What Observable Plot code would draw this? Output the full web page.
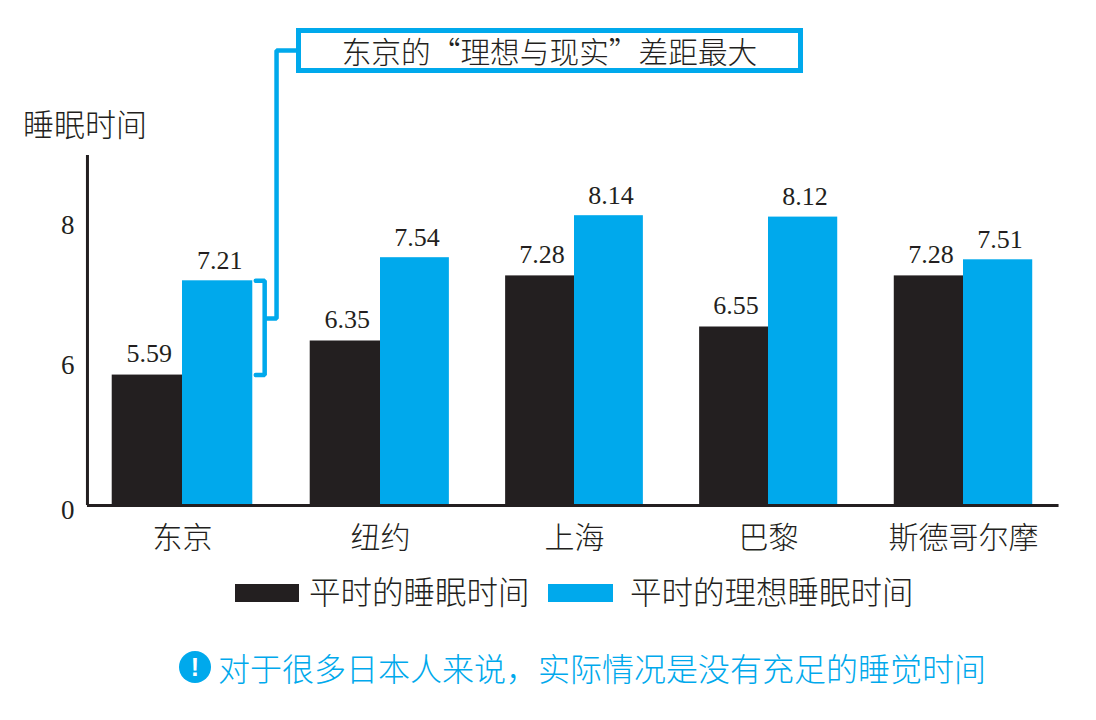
<!DOCTYPE html>
<html lang="zh">
<head>
<meta charset="utf-8">
<script src="https://cdn.jsdelivr.net/npm/d3@7"></script>
<script src="https://cdn.jsdelivr.net/npm/@observablehq/plot@0.6"></script>
<style>
  html, body { margin: 0; padding: 0; background: #fff; }
  #page { position: relative; width: 1096px; height: 720px; overflow: hidden;
          font-family: "Noto Sans CJK SC", sans-serif; font-weight: 300; color: #231f20; }
  #page svg { position: absolute; left: 0; top: 0; }
  .abs { position: absolute; white-space: nowrap; line-height: 1; }
  .swatch { position: absolute; }
</style>
</head>
<body>
<div id="page">
  <div id="chart"></div>
  <div class="abs" id="ylabel" style="left:23px; top:107px; font-size:31px;"></div>
  <div class="abs" id="callout" style="left:296px; top:28px; width:497px; height:35px; border:5px solid #00a9ec; background:#fff; font-size:29.7px; line-height:35px; text-align:center;"></div>
  <div class="swatch" style="left:235px; top:584px; width:64px; height:18px; background:#231f20;"></div>
  <div class="abs" id="leg1" style="left:309px; top:575px; font-size:31.5px;"></div>
  <div class="swatch" style="left:548px; top:584px; width:65px; height:18px; background:#00a9ec;"></div>
  <div class="abs" id="leg2" style="left:630px; top:575px; font-size:31.5px;"></div>
  <div class="abs" style="left:179px; top:651px; width:32px; height:32px; border-radius:50%; background:#00a9ec; color:#fff; font:700 25px/32px 'Liberation Sans', sans-serif; text-align:center;">!</div>
  <div class="abs" id="note" style="left:218px; top:651px; font-size:32px; color:#00a9ec;"></div>
</div>
<script>
const cities = ["东京", "纽约", "上海", "巴黎", "斯德哥尔摩"];
const actual = [5.59, 6.35, 7.28, 6.55, 7.28];
const ideal = [7.21, 7.54, 8.14, 8.12, 7.51];
const yTicks = [8, 6];
const seriesNames = ["平时的睡眠时间", "平时的理想睡眠时间"];
const yTitle = "睡眠时间";
const calloutText = "东京的“理想与现实”差距最大";
const noteText = "对于很多日本人来说，实际情况是没有充足的睡觉时间";

const black = "#231f20", blue = "#00a9ec";
const barSpan = 0.355;
const rows = cities.map((city, i) => ({city, i, actual: actual[i], ideal: ideal[i]}));
const digitFont = "'Liberation Serif', serif";

// Bracket spanning the Tokyo gap, with a leader up to the callout box
const bracket = [[0.37, ideal[0]], [0.415, ideal[0]], [0.415, actual[0]], [0.37, actual[0]]].map(([x, y]) => ({x, y}));
const leader = [[0.425, 6.67], [0.475, 6.67], [0.475, 10.5], [0.58, 10.5]].map(([x, y]) => ({x, y}));

const chart = Plot.plot({
  width: 1096,
  height: 560,
  marginLeft: 87,
  marginBottom: 0,
  marginTop: 0,
  marginRight: 0,
  style: {background: "transparent", overflow: "visible", fontFamily: "'Noto Sans CJK SC', sans-serif", color: black},
  x: {type: "linear", domain: [0, 1, 2, 3, 4], range: [182, 380, 574, 768, 963], axis: null},
  y: {type: "linear", domain: [0, 6, 9], range: [505, 365, 155], axis: null},
  marks: [
    Plot.rectY(rows, {x1: d => d.i - barSpan, x2: d => d.i, y1: 0, y2: "actual", fill: black, inset: 0}),
    Plot.rectY(rows, {x1: d => d.i, x2: d => d.i + barSpan, y1: 0, y2: "ideal", fill: blue, inset: 0}),
    Plot.ruleX([-0.48], {y1: 0, y2: 9, stroke: black, strokeWidth: 3}),
    Plot.ruleY([0], {x1: -0.48, x2: 4.49, stroke: black, strokeWidth: 3}),
    Plot.axisY({ticks: yTicks, anchor: "left", tickSize: 0, tickPadding: 13, fontSize: 27, fontFamily: digitFont, tickFormat: d => String(d), label: null}),
    Plot.axisY({ticks: [0], anchor: "left", tickSize: 0, tickPadding: 13, fontSize: 27, fontFamily: digitFont, dy: 5, tickFormat: d => String(d), label: null}),
    Plot.axisX({ticks: cities.map((_, i) => i), anchor: "bottom", y: 0, tickSize: 0, tickFormat: i => cities[i], fontSize: 30, fontWeight: 300, label: null, dy: 12}),
    Plot.text(rows, {x: d => d.i - barSpan / 2, y: "actual", text: d => d.actual.toFixed(2), dy: -21, fontSize: 26, fontFamily: digitFont, fill: black, letterSpacing: "1.5px", dx: 2}),
    Plot.text(rows, {x: d => d.i + barSpan / 2, y: "ideal", text: d => d.ideal.toFixed(2), dy: -20, fontSize: 26, fontFamily: digitFont, fill: black, letterSpacing: "1.5px", dx: 2}),
    Plot.line(bracket, {x: "x", y: "y", stroke: blue, strokeWidth: 4.5, strokeLinejoin: "miter"}),
    Plot.line(leader, {x: "x", y: "y", stroke: blue, strokeWidth: 4.5, strokeLinejoin: "miter"})
  ]
});
document.getElementById("chart").appendChild(chart);
document.getElementById("ylabel").textContent = yTitle;
document.getElementById("callout").textContent = calloutText;
document.getElementById("leg1").textContent = seriesNames[0];
document.getElementById("leg2").textContent = seriesNames[1];
document.getElementById("note").textContent = noteText;
</script>
</body>
</html>
